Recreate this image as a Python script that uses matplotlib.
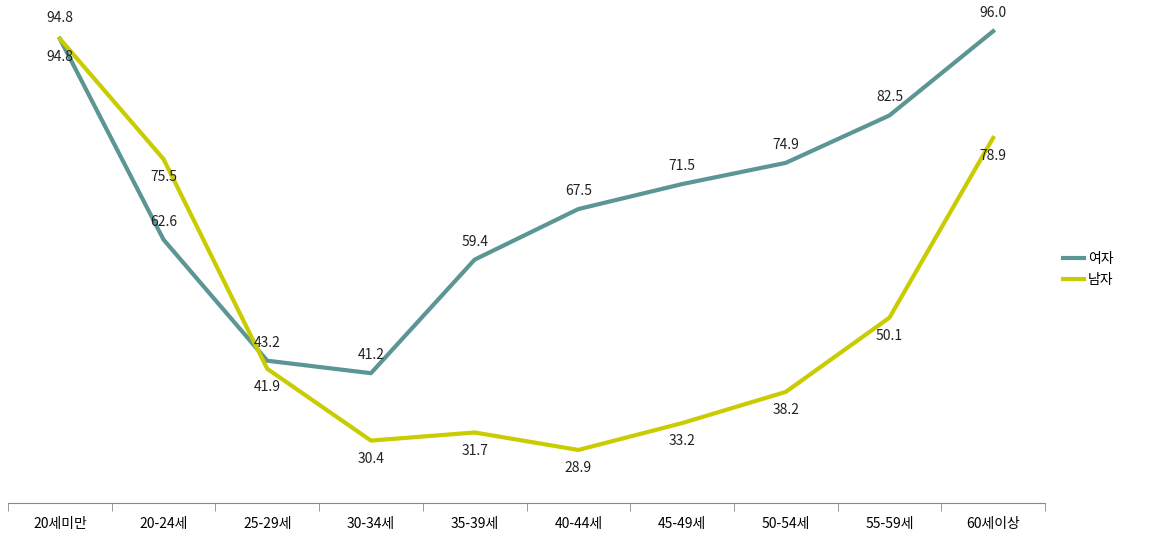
import matplotlib.pyplot as plt
import numpy as np

plt.rcParams['font.family'] = ['Noto Sans CJK KR', 'DejaVu Sans']

categories = ['20세미만', '20-24세', '25-29세', '30-34세', '35-39세',
              '40-44세', '45-49세', '50-54세', '55-59세', '60세이상']
female = [94.8, 62.6, 43.2, 41.2, 59.4, 67.5, 71.5, 74.9, 82.5, 96.0]
male = [94.8, 75.5, 41.9, 30.4, 31.7, 28.9, 33.2, 38.2, 50.1, 78.9]

fig = plt.figure(figsize=(11.61, 5.38), dpi=100)
ax = fig.add_axes([8/1161, 1 - 503/538, 1037/1161, 503/538])
x = np.arange(len(categories))
ax.plot(x, female, color='#5B9594', lw=3, label='여자')
ax.plot(x, male, color='#C8CC00', lw=3, label='남자')

for i, v in enumerate(female):
    off = -13 if i == 0 else 13
    ax.annotate(f'{v:.1f}', (i, v), xytext=(0, off), textcoords='offset points',
                ha='center', va='center', fontsize=10, color='#222222')
for i, v in enumerate(male):
    off = 15 if i == 0 else -13
    ax.annotate(f'{v:.1f}', (i, v), xytext=(0, off), textcoords='offset points',
                ha='center', va='center', fontsize=10, color='#222222')

ax.set_xlim(-0.5, len(categories) - 0.5)
ax.set_ylim(20.4, 101)
ax.set_yticks([])
ax.set_xticks(x)
ax.set_xticklabels(categories, fontsize=10)
ax.set_xticks(np.arange(-0.5, len(categories)), minor=True)
ax.tick_params(axis='x', which='major', length=0, pad=10)
ax.tick_params(axis='x', which='minor', length=6, color='#888888')
for s in ['top', 'right', 'left']:
    ax.spines[s].set_visible(False)
ax.spines['bottom'].set_color('#888888')

ax.legend(loc='center left', bbox_to_anchor=(1.005, 0.465), frameon=False,
          fontsize=10, handlelength=1.5, handletextpad=0.3, labelspacing=0.5)

fig.savefig('out.png', dpi=100)
